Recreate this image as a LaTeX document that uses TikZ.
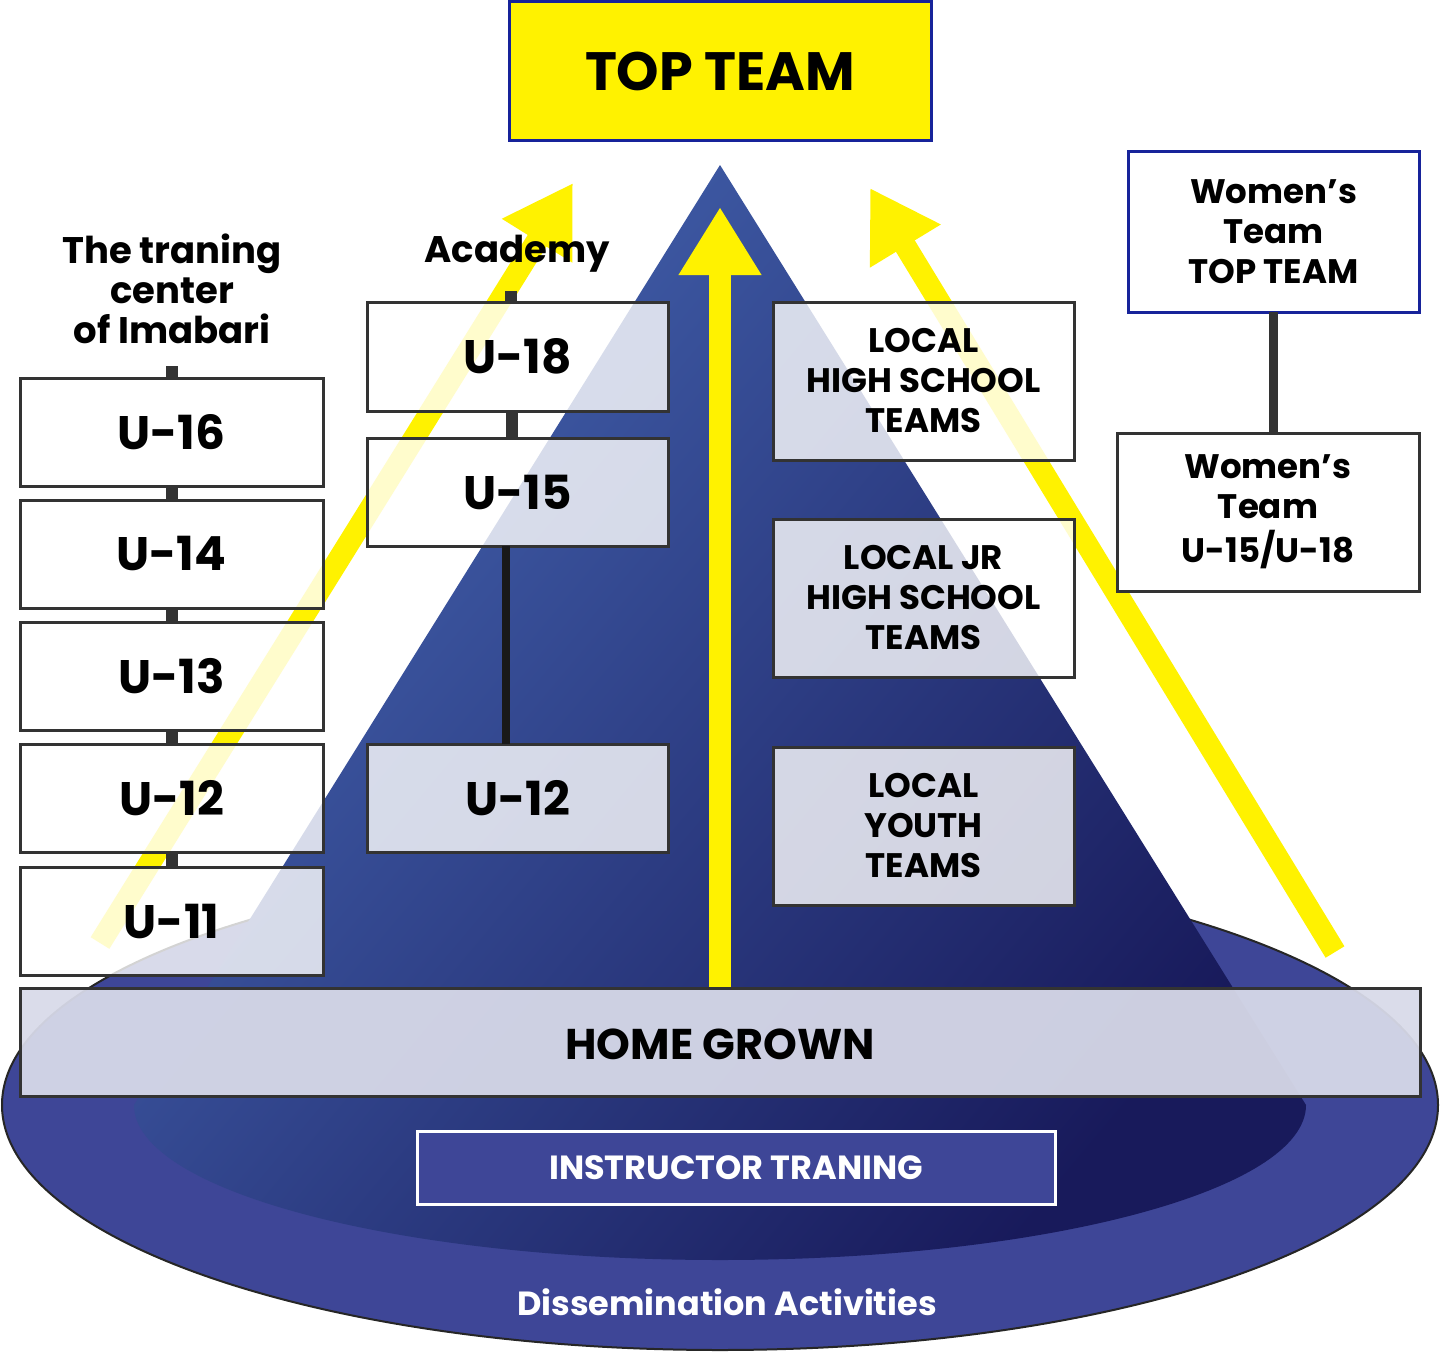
\documentclass[tikz,border=0pt]{standalone}
\usepackage{fontspec}
\setmainfont{Poppins}
\usepackage{tikz}
\usetikzlibrary{positioning,arrows.meta}
\definecolor{topyellow}{HTML}{FFF200}
\definecolor{navyline}{HTML}{17239A}
\definecolor{discblue}{HTML}{3E4697}
\definecolor{pyrlight}{HTML}{4464B0}
\definecolor{pyrmid}{HTML}{262F7C}
\definecolor{pyrdark}{HTML}{181A5B}
\definecolor{boxline}{HTML}{333333}
\definecolor{bandgray}{HTML}{D8DAE9}
\tikzset{
agebox/.style = {draw=boxline, line width=3pt, fill=white, fill opacity=0.8, text opacity=1,
  minimum width=303pt, minimum height=108pt, inner sep=0pt, outer sep=0pt,
  font=\fontsize{47}{50}\selectfont\bfseries},
localbox/.style = {agebox, minimum width=301pt, minimum height=158pt, align=center,
  font=\fontsize{34}{40}\selectfont\bfseries},
colhead/.style = {align=center, inner sep=0pt, font=\fontsize{37}{40}\selectfont\bfseries},
link/.style = {draw=boxline, line width=12pt},
yarrow/.style = {draw=topyellow, line width=22pt, -{Triangle[length=68pt,width=78pt]}}
}

\begin{document}
\begin{tikzpicture}[x=1pt, y=-1pt]
\useasboundingbox (0,0) rectangle (1440,1354);
% base and pyramid
\draw[line width=2pt, draw=black!85, fill=discblue] (720,1105) ellipse [x radius=718, y radius=245];
\shade[top color=pyrlight, middle color=pyrmid, bottom color=pyrdark, shading angle=50]
  (720,165) -- (134,1105) arc[start angle=180, end angle=0, x radius=586, y radius=155] -- cycle;

% yellow arrows
\coordinate (ltail) at (100,943);
\coordinate (ltip) at (573,183);
\coordinate (mtail) at (720,987);
\coordinate (mtip) at (720,207);
\coordinate (rtail) at (1335,952);
\coordinate (rtip) at (870,188);
\draw[yarrow] (ltail) -- (ltip);
\draw[yarrow] (mtail) -- (mtip);
\draw[yarrow] (rtail) -- (rtip);

\node [draw=boxline, line width=3pt, fill=bandgray, fill opacity=0.94, text opacity=1,
  minimum width=1400pt, minimum height=108pt, outer sep=0pt, text height=36pt,
  font=\fontsize{43}{48}\selectfont\bfseries] (home) at (720,1042) {HOME GROWN};
\node [draw=white, line width=3pt, fill=discblue, text=white, minimum width=638pt,
  minimum height=73pt, outer sep=0pt, font=\fontsize{33.5}{38}\selectfont\bfseries]
  (instr) at (736,1167.5) {INSTRUCTOR TRANING};
\node [text=white, font=\fontsize{33.5}{40}\selectfont\bfseries] (diss) at (727,1302) {Dissemination Activities};

% the training center
\node [colhead] (tc) at (172,289) {The traning\\center\\of Imabari};
\node [agebox] (u16) at (171.5,432) {U-16};
\node [agebox, below=14pt of u16] (u14) {U-14};
\node [agebox, below=14pt of u14] (u13) {U-13};
\node [agebox, below=14pt of u13] (u12) {U-12};
\node [agebox, below=15pt of u12] (u11) {U-11};
\coordinate (tcstub) at (171.5,366);
\draw [link] (tcstub) -- (u16.north);
\draw [link] (u16.south) -- (u14.north);
\draw [link] (u14.south) -- (u13.north);
\draw [link] (u13.south) -- (u12.north);
\draw [link] (u12.south) -- (u11.north);

% academy
\node [colhead] (acad) at (517,254) {Academy};
\node [agebox, minimum width=301pt, minimum height=109pt] (u18) at (517.5,356.5) {U-18};
\node [agebox, minimum width=301pt, below=27pt of u18] (u15) {U-15};
\node [agebox, minimum width=301pt] (au12) at (517.5,798) {U-12};
\coordinate (acstub) at (511,291);
\draw [link] (acstub) -- (acstub |- u18.north);
\draw [link] ([xshift=-6pt]u18.south) -- ([xshift=-6pt]u15.north);
\draw [draw=black!90, line width=8pt] ([xshift=-12pt]u15.south) -- ([xshift=-12pt]au12.north);

% local teams
\node [localbox] (hs) at (923.5,381) {LOCAL\\HIGH SCHOOL\\TEAMS};
\node [localbox, below=59pt of hs] (jr) {LOCAL JR\\HIGH SCHOOL\\TEAMS};
\node [localbox, below=70pt of jr] (youth) {LOCAL\\YOUTH\\TEAMS};

% women's team
\node [localbox, draw=navyline, fill opacity=1, minimum width=291pt, minimum height=161pt]
  (wtop) at (1273.5,231.5) {Women’s\\Team\\TOP TEAM};
\node [localbox, fill opacity=1, minimum width=302pt] (wu) at (1268,512) {Women’s\\Team\\[4pt]U-15/U-18};
\draw [link, line width=9pt] (wtop.south) -- (wtop.south |- wu.north);

% top team
\node [draw=navyline, line width=3pt, fill=topyellow, minimum width=422pt, minimum height=138pt,
  outer sep=0pt, font=\fontsize{54}{60}\selectfont\bfseries] (top) at (720,71) {TOP TEAM};
\end{tikzpicture}
\end{document}
